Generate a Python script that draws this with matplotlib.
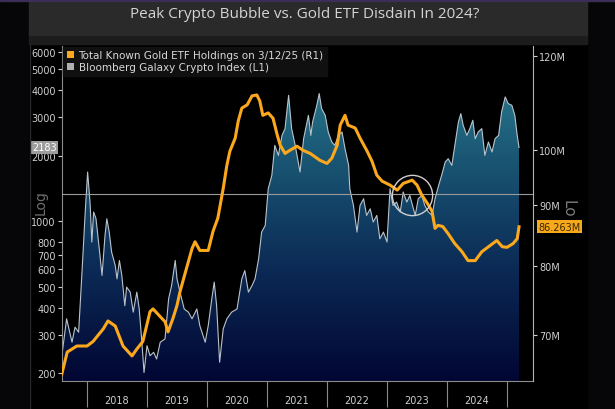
import numpy as np
import matplotlib.pyplot as plt
from matplotlib.colors import LinearSegmentedColormap
from matplotlib.patches import Patch, Polygon, Rectangle
from matplotlib.lines import Line2D
from matplotlib.ticker import NullLocator

# Bloomberg Galaxy Crypto Index (left axis, log), decimal years
crypto_t = [2017.58, 2017.66, 2017.75, 2017.80, 2017.86, 2017.91, 2017.97, 2018.01, 2018.05, 2018.08,
            2018.11, 2018.15, 2018.21, 2018.25, 2018.30, 2018.33, 2018.37, 2018.41, 2018.47, 2018.50,
            2018.54, 2018.58, 2018.63, 2018.66, 2018.72, 2018.77, 2018.83, 2018.87, 2018.91, 2018.95,
            2019.00, 2019.05, 2019.11, 2019.16, 2019.22, 2019.30, 2019.36, 2019.41, 2019.47, 2019.50,
            2019.55, 2019.62, 2019.69, 2019.75, 2019.83, 2019.88, 2019.97, 2020.02, 2020.08, 2020.12,
            2020.16, 2020.21, 2020.27, 2020.33, 2020.41, 2020.50, 2020.58, 2020.63, 2020.69, 2020.75,
            2020.80, 2020.86, 2020.91, 2020.97, 2021.02, 2021.08, 2021.13, 2021.19, 2021.25, 2021.30,
            2021.36, 2021.41, 2021.47, 2021.51, 2021.55, 2021.61, 2021.69, 2021.73, 2021.76, 2021.83,
            2021.87, 2021.91, 2021.97, 2022.02, 2022.08, 2022.13, 2022.19, 2022.25, 2022.30, 2022.36,
            2022.38, 2022.44, 2022.50, 2022.55, 2022.61, 2022.66, 2022.72, 2022.77, 2022.83, 2022.88,
            2022.94, 2023.00, 2023.05, 2023.10, 2023.16, 2023.22, 2023.27, 2023.33, 2023.38, 2023.47,
            2023.52, 2023.58, 2023.63, 2023.69, 2023.75, 2023.80, 2023.86, 2023.91, 2023.97, 2024.02,
            2024.08, 2024.13, 2024.19, 2024.23, 2024.27, 2024.33, 2024.38, 2024.43, 2024.47, 2024.52,
            2024.58, 2024.63, 2024.69, 2024.75, 2024.80, 2024.86, 2024.91, 2024.97, 2025.02, 2025.08,
            2025.13, 2025.17, 2025.20]
crypto_v = [240, 355, 277, 325, 308, 542, 1101, 1682, 1223, 801,
            1101, 1025, 720, 562, 859, 1025, 890, 720, 625, 542,
            659, 562, 408, 497, 471, 381, 471, 394, 287, 201,
            267, 240, 249, 232, 277, 287, 439, 505, 659, 542,
            471, 394, 381, 355, 394, 330, 277, 330, 439, 524,
            408, 224, 319, 355, 381, 394, 542, 592, 471, 505,
            542, 671, 890, 955, 1409, 1623, 2231, 2006, 2480, 2664,
            3792, 2664, 2231, 1937, 1682, 2394, 3066, 2480, 2860, 3412,
            3862, 3294, 3066, 2572, 2312, 2231, 2480, 2572, 2154, 1804,
            1409, 1180, 890, 1180, 1267, 1062, 1139, 990, 1062, 829,
            890, 801, 1409, 1180, 1223, 1101, 1361, 1223, 1312, 1062,
            1267, 1312, 1180, 1101, 1062, 1267, 1459, 1623, 1871, 1937,
            1804, 2231, 2860, 3122, 2758, 2480, 2664, 2910, 2394, 2572,
            2664, 2006, 2312, 2080, 2394, 2480, 3180, 3728, 3472, 3412,
            3066, 2480, 2183]

# Total known gold ETF holdings, million oz (right axis, log)
gold_t = [2017.58, 2017.67, 2017.83, 2018.00, 2018.10, 2018.27, 2018.35, 2018.47, 2018.60, 2018.75,
          2018.83, 2018.93, 2019.05, 2019.10, 2019.22, 2019.30, 2019.35, 2019.43, 2019.50, 2019.55,
          2019.67, 2019.75, 2019.80, 2019.88, 2020.02, 2020.10, 2020.18, 2020.27, 2020.33, 2020.38,
          2020.47, 2020.52, 2020.58, 2020.67, 2020.75, 2020.83, 2020.88, 2020.93, 2021.02, 2021.10,
          2021.17, 2021.22, 2021.30, 2021.38, 2021.50, 2021.60, 2021.72, 2021.88, 2022.00, 2022.08,
          2022.17, 2022.22, 2022.30, 2022.35, 2022.47, 2022.55, 2022.67, 2022.75, 2022.83, 2022.92,
          2023.05, 2023.17, 2023.27, 2023.42, 2023.50, 2023.58, 2023.67, 2023.75, 2023.80, 2023.85,
          2023.93, 2024.02, 2024.13, 2024.25, 2024.35, 2024.47, 2024.58, 2024.72, 2024.83, 2024.92,
          2025.00, 2025.10, 2025.17, 2025.20]
gold_v = [64.9, 67.7, 68.5, 68.5, 69.1, 70.8, 71.9, 71.2, 68.5, 67.2,
          68.1, 69.1, 73.2, 73.6, 72.5, 71.8, 70.4, 72.2, 74.1, 76.1,
          80.0, 82.7, 83.8, 82.4, 82.4, 85.5, 87.7, 92.9, 97.1, 99.8,
          102.4, 105.8, 108.5, 109.2, 111.1, 111.3, 110.0, 107.0, 107.5, 106.4,
          103.0, 101.0, 99.4, 100.0, 100.8, 100.0, 99.4, 98.1, 97.5, 98.5,
          101.0, 105.0, 107.0, 105.0, 104.4, 102.4, 99.8, 97.9, 95.3, 94.2,
          93.5, 92.6, 93.8, 94.4, 93.5, 91.7, 90.3, 88.9, 86.0, 86.5,
          86.3, 85.1, 83.5, 82.2, 80.8, 80.8, 82.2, 83.2, 84.0, 83.0,
          82.9, 83.5, 84.3, 86.263]

left_ticks = [200, 300, 400, 500, 600, 700, 800, 1000, 2000, 3000, 4000, 5000, 6000]
right_ticks = [70, 80, 90, 100, 120]
right_labels = ['70M', '80M', '90M', '100M', '120M']
years = [2018, 2019, 2020, 2021, 2022, 2023, 2024]

title = 'Peak Crypto Bubble vs. Gold ETF Disdain In 2024?'
gold_label = 'Total Known Gold ETF Holdings on 3/12/25 (R1)'
crypto_label = 'Bloomberg Galaxy Crypto Index (L1)'

W, H = 615, 410
def fx(px):
    return px / W
def fy(py):
    return 1 - py / H

fig = plt.figure(figsize=(6.15, 4.10), dpi=100, facecolor='#060608')

# window background pieces
fig.patches.append(Rectangle((fx(29), 0), fx(587) - fx(29), fy(45), transform=fig.transFigure,
                             color='black', zorder=-5))
fig.patches.append(Rectangle((fx(29), fy(45)), fx(587) - fx(29), 9 / H, transform=fig.transFigure,
                             color='#1c1c1c', zorder=-5))
fig.patches.append(Rectangle((fx(29), fy(36)), fx(587) - fx(29), 36 / H, transform=fig.transFigure,
                             color='#2a2a2a', zorder=-5))
fig.patches.append(Rectangle((0, fy(2)), 1, 2 / H, transform=fig.transFigure,
                             color='#3b2d55', zorder=-4))
fig.add_artist(Line2D([fx(30), fx(30)], [0, fy(45)], color='#262626', lw=1))

fig.text(fx(305), fy(14), title, ha='center', va='center', fontsize=11,
         color='#d4d4d4', family='Open Sans')

ax1 = fig.add_axes([fx(62), fy(382), fx(533) - fx(62), (382 - 47) / H])
ax1.set_facecolor('black')
ax1.set_yscale('log')
ax1.set_xlim(2017.583, 2025.433)
ax1.set_ylim(183.7, 6394)

# gradient area under crypto index
cmap = LinearSegmentedColormap.from_list('bb', ['#2f8797', '#1a5674', '#0b2a55', '#020633'])
grad = np.linspace(0, 1, 256).reshape(-1, 1)
im = ax1.imshow(grad, cmap=cmap, aspect='auto', extent=[0, 1, 0, 1],
                transform=ax1.transAxes, origin='upper', zorder=1)
verts = [(crypto_t[0], 183.7)] + list(zip(crypto_t, crypto_v)) + [(crypto_t[-1], 183.7)]
poly = Polygon(verts, closed=True, facecolor='none', edgecolor='none', transform=ax1.transData)
ax1.add_patch(poly)
im.set_clip_path(poly)
ax1.plot(crypto_t, crypto_v, color='#b9c3cb', lw=0.8, zorder=2)
ax1.axhline(1330, color='#9a9a9a', lw=0.8, zorder=3)
ax1.set_xlim(2017.583, 2025.433)
ax1.set_ylim(183.7, 6394)

ax1.set_yticks(left_ticks, labels=[str(v) for v in left_ticks])
ax1.yaxis.set_minor_locator(NullLocator())
ax1.tick_params(axis='y', colors='#d0d0d0', labelsize=7, length=3, width=0.8, pad=1.5)

ax1.set_xticks(range(2018, 2026), labels=[''] * 8)
ax1.set_xticks([y + 0.5 for y in years], labels=[str(y) for y in years], minor=True)
ax1.tick_params(axis='x', which='major', length=18.5, width=0.8, color='#8a8a8a')
ax1.tick_params(axis='x', which='minor', length=0, pad=10, labelsize=7, labelcolor='#d0d0d0')

for s in ['top', 'right']:
    ax1.spines[s].set_visible(False)
for s in ['left', 'bottom']:
    ax1.spines[s].set_color('#8c8c8c')

ax1.annotate('2183', xy=(0, 2183), xycoords=('axes fraction', 'data'), xytext=(-4, 0),
             textcoords='offset points', ha='right', va='center', fontsize=7, color='white',
             bbox=dict(boxstyle='square,pad=0.15', fc='#9c9c9c', ec='none'), annotation_clip=False)

ax1.text(fx(41), fy(203), 'Log', transform=fig.transFigure, rotation=90, fontsize=10,
         color='#6e6e6e', ha='center', va='center')
ax1.text(fx(568), fy(209), 'Lo', transform=fig.transFigure, rotation=270, fontsize=11,
         color='#7a7a7a', ha='center', va='center')

# gold holdings on right axis
ax2 = ax1.twinx()
ax2.set_yscale('log')
ax2.plot(gold_t, gold_v, color='#fba81c', lw=2.2, zorder=4, solid_joinstyle='round')
ax2.plot([2023.42], [91.8], marker='o', ms=29, mfc='none', mec='#d0d0d0', mew=1.0, zorder=5)
ax2.set_ylim(64.02, 122.35)
ax2.set_yticks(right_ticks, labels=right_labels)
ax2.yaxis.set_minor_locator(NullLocator())
ax2.tick_params(axis='y', colors='#d0d0d0', labelsize=7, length=3, width=0.8, pad=1.5)
for s in ['top', 'left', 'bottom']:
    ax2.spines[s].set_visible(False)
ax2.spines['right'].set_color('#b4b4b4')

ax2.annotate('86.263M', xy=(1, 86.263), xycoords=('axes fraction', 'data'), xytext=(4, 0),
             textcoords='offset points', ha='left', va='center', fontsize=7, color='#3a2800',
             bbox=dict(boxstyle='square,pad=0.15', fc='#f7a81b', ec='none'), annotation_clip=False)

handles = [Patch(facecolor='#fba81c', edgecolor='none'), Patch(facecolor='#b0b0b0', edgecolor='none')]
leg = ax2.legend(handles, [gold_label, crypto_label], loc='upper left', bbox_to_anchor=(0.003, 0.998),
                 fontsize=7.5, frameon=True, facecolor='#101010', edgecolor='#101010', framealpha=1,
                 labelcolor='#d8d8d8', handlelength=0.7, handleheight=0.7, handletextpad=0.4,
                 borderpad=0.35, labelspacing=0.2, borderaxespad=0, fancybox=False)
leg.set_zorder(10)

fig.savefig('out.png', dpi=100, facecolor=fig.get_facecolor())
